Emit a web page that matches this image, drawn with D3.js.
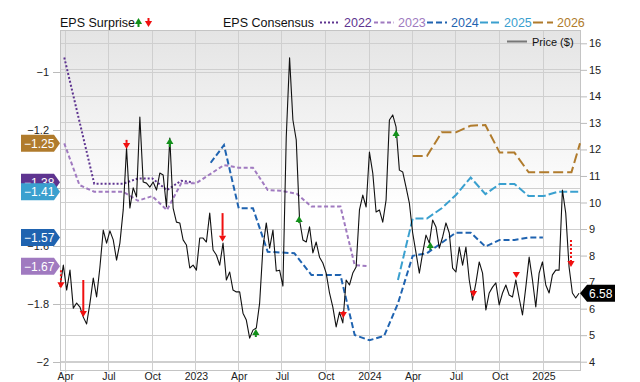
<!DOCTYPE html>
<html><head><meta charset="utf-8">
<script src="https://cdn.jsdelivr.net/npm/d3@7"></script>
<style>body{margin:0;background:#fff}svg{display:block;font-family:"Liberation Sans",Arial,sans-serif}</style>
</head><body><svg id="c" width="640" height="382"></svg>
<script>
// ---------- DATA ----------
const priceStart = "2022-03-21"; // weekly closes
const priceValues = [6.81,7.64,6.70,7.45,6.02,6.21,6.06,5.68,5.42,6.21,7.15,6.44,7.57,8.96,8.47,8.93,8.59,7.83,8.47,9.72,
12.05,9.79,10.55,10.21,13.22,10.77,10.73,10.58,10.77,10.47,11.11,11.04,9.83,12.43,9.79,9.26,9.23,8.59,8.40,7.53,
7.64,7.45,8.66,8.66,8.51,9.60,8.21,8.02,7.64,8.47,7.08,7.38,6.70,6.63,6.63,5.83,5.57,4.89,5.19,5.27,
6.21,8.32,9.23,8.28,8.96,7.42,7.45,6.85,12.47,15.45,13.11,12.36,9.34,8.59,8.51,9.08,8.10,8.51,7.94,7.72,
7.34,6.59,6.06,5.31,5.87,5.46,7.08,6.89,7.34,7.57,9.72,10.28,9.83,11.90,11.11,9.64,9.72,9.26,10.09,13.11,
13.30,12.85,11.22,11.15,10.58,9.98,8.85,8.10,7.34,8.10,8.77,8.47,9.34,9.08,8.28,8.70,9.23,8.85,7.53,7.38,
8.32,7.64,8.32,7.08,6.32,6.97,7.76,7.34,5.95,6.59,6.81,6.97,6.14,6.59,6.89,6.51,6.44,7.08,6.40,5.76,
6.81,7.94,7.08,6.06,7.34,7.76,6.89,6.59,7.27,7.45,7.45,10.47,9.60,7.57,6.59,6.40,6.58];

const c2022Dates = ["2022-03-30","2022-06-01","2022-08-01","2022-09-01","2022-10-01","2022-11-01","2022-12-01","2022-12-26"];
const c2022Values = [-0.95,-1.385,-1.385,-1.367,-1.367,-1.407,-1.375,-1.38];
const c2023Dates = ["2022-03-30","2022-05-01","2022-06-01","2022-08-01","2022-09-01","2022-10-01","2022-11-01","2022-12-01","2023-01-01","2023-03-01","2023-04-01","2023-05-01","2023-06-01","2023-07-01","2023-08-01","2023-09-01","2023-11-01","2023-12-01","2023-12-31"];
const c2023Values = [-1.246,-1.39,-1.413,-1.413,-1.444,-1.428,-1.476,-1.384,-1.384,-1.321,-1.33,-1.33,-1.407,-1.41,-1.42,-1.464,-1.464,-1.666,-1.67];
const c2024Dates = ["2023-02-01","2023-03-01","2023-04-01","2023-05-01","2023-06-01","2023-07-27","2023-09-01","2023-11-01","2023-12-01","2024-01-01","2024-02-01","2024-03-01","2024-04-01","2024-05-01","2024-07-01","2024-08-01","2024-09-01","2024-10-01","2024-11-01","2024-12-01","2024-12-31"];
const c2024Values = [-1.313,-1.252,-1.47,-1.47,-1.62,-1.625,-1.70,-1.70,-1.907,-1.925,-1.91,-1.798,-1.634,-1.625,-1.554,-1.554,-1.602,-1.579,-1.579,-1.571,-1.571];
const c2025Dates = ["2024-03-01","2024-04-01","2024-05-01","2024-06-01","2024-07-01","2024-08-01","2024-09-01","2024-10-01","2024-11-01","2024-12-01","2025-01-01","2025-02-01","2025-03-19"];
const c2025Values = [-1.717,-1.505,-1.505,-1.47,-1.424,-1.364,-1.421,-1.386,-1.386,-1.428,-1.428,-1.413,-1.413];
const c2026Dates = ["2024-04-01","2024-05-01","2024-06-01","2024-07-01","2024-08-01","2024-09-01","2024-10-01","2024-11-01","2024-12-01","2025-01-01","2025-03-01","2025-03-19"];
const c2026Values = [-1.29,-1.29,-1.208,-1.208,-1.185,-1.183,-1.278,-1.278,-1.346,-1.346,-1.346,-1.246];

const surpriseDates = ["2022-03-23","2022-05-09","2022-08-08","2022-11-07","2023-02-26","2023-05-07","2023-08-06","2023-11-07","2024-02-26","2024-05-08","2024-08-07","2024-11-05","2025-02-28"];
const surpriseFrom = [7.45,7.08,12.36,12.09,9.60,4.93,9.23,5.91,12.43,8.21,6.70,7.38,8.59];
const surpriseTo   = [6.77,5.68,12.02,12.43,8.52,5.23,9.49,5.65,12.73,8.51,6.44,7.15,7.57];
const surpriseDotted = [true,false,false,false,false,false,false,false,false,false,false,false,true];

const epsTicks = [-1,-1.2,-1.4,-1.6,-1.8,-2];
const priceTicks = [4,5,6,7,8,9,10,11,12,13,14,15,16];
const xTickDates = ["2022-04-01","2022-07-01","2022-10-01","2023-01-01","2023-04-01","2023-07-01","2023-10-01","2024-01-01","2024-04-01","2024-07-01","2024-10-01","2025-01-01"];

const seriesNames = ["2022","2023","2024","2025","2026"];
const seriesColors = ["#5e3490","#a07ac0","#1f63b0","#3aa0cf","#b07b2c"];
const seriesDash = ["2,2","4,2.5","6,3","8,3","10,4"];
const flagOrder = ["2026","2022","2025","2024","2023"];

// ---------- CHART ----------
const parse = d3.utcParse("%Y-%m-%d");
const svg = d3.select("#c");
const L = 60, R = 580, T = 30, B = 370.5;
const x = d3.scaleUtc().domain([parse("2022-03-21"), parse("2025-03-19")]).range([L, R]);
const yE = d3.scaleLinear().domain([-1, -2]).range([72, 362]);
const yP = d3.scaleLinear().domain([16, 4]).range([43.3, 361.7]);

const defs = svg.append("defs");
const grad = defs.append("linearGradient").attr("id","bg").attr("x1",0).attr("y1",0).attr("x2",0).attr("y2",1);
grad.append("stop").attr("offset","0%").attr("stop-color","#e4e4e4");
grad.append("stop").attr("offset","52%").attr("stop-color","#ffffff");
grad.append("stop").attr("offset","100%").attr("stop-color","#ffffff");
svg.append("rect").attr("x",L).attr("y",T).attr("width",R-L).attr("height",B-T).attr("fill","url(#bg)");

const grid = svg.append("g").attr("stroke","#cfcfcf").attr("stroke-width",1).attr("shape-rendering","crispEdges");
xTickDates.forEach(d => grid.append("line").attr("x1",x(parse(d))).attr("x2",x(parse(d))).attr("y1",T).attr("y2",B));
priceTicks.forEach(v => grid.append("line").attr("x1",L).attr("x2",R).attr("y1",yP(v)).attr("y2",yP(v)));
epsTicks.forEach(v => grid.append("line").attr("x1",L).attr("x2",R).attr("y1",yE(v)).attr("y2",yE(v)));
svg.append("rect").attr("x",L).attr("y",T).attr("width",R-L).attr("height",B-T)
  .attr("fill","none").attr("stroke","#c4c4c4").attr("shape-rendering","crispEdges");

// axes
const fmtX = d => d.getUTCMonth() === 0 ? d3.utcFormat("%Y")(d) : d3.utcFormat("%b")(d);
const ax = svg.append("g").attr("transform",`translate(0,${B})`)
  .call(d3.axisBottom(x).tickValues(xTickDates.map(parse)).tickFormat(fmtX).tickSize(2).tickPadding(0));
ax.select(".domain").remove();
ax.selectAll("line").attr("stroke","#c4c4c4");
ax.selectAll("text").attr("font-size",10.5).attr("fill","#222").attr("font-family","Liberation Sans, Arial, sans-serif");

const al = svg.append("g").attr("transform",`translate(${L},0)`)
  .call(d3.axisLeft(yE).tickValues(epsTicks).tickFormat(d3.format("")).tickSize(7).tickPadding(4));
al.select(".domain").remove();
al.selectAll("line").attr("stroke","#bbb");
al.selectAll("text").attr("font-size",11).attr("fill","#222").attr("font-family","Liberation Sans, Arial, sans-serif");

const ar = svg.append("g").attr("transform",`translate(${R},0)`)
  .call(d3.axisRight(yP).tickValues(priceTicks).tickSize(7).tickPadding(2));
ar.select(".domain").remove();
ar.selectAll("line").attr("stroke","#bbb");
ar.selectAll("text").attr("font-size",11).attr("fill","#222").attr("font-family","Liberation Sans, Arial, sans-serif");

// consensus lines
const series = [
  {dates:c2022Dates, values:c2022Values},
  {dates:c2023Dates, values:c2023Values},
  {dates:c2024Dates, values:c2024Values},
  {dates:c2025Dates, values:c2025Values},
  {dates:c2026Dates, values:c2026Values}
];
const lineE = d3.line().x(d => x(d[0])).y(d => yE(d[1]));
series.forEach((s, i) => {
  const pts = s.dates.map((d, j) => [parse(d), s.values[j]]);
  svg.append("path").attr("d", lineE(pts)).attr("fill","none")
    .attr("stroke", seriesColors[i]).attr("stroke-width", 2).attr("stroke-dasharray", seriesDash[i]);
});

// price line
const p0 = parse(priceStart);
const pricePts = priceValues.map((v, i) => [d3.utcDay.offset(p0, i * 7), v]);
svg.append("path").attr("d", d3.line().x(d => x(d[0])).y(d => yP(d[1]))(pricePts))
  .attr("fill","none").attr("stroke","#111").attr("stroke-width",1.1).attr("stroke-linejoin","round");

// surprise arrows
function arrow(g, cx, y1, y2, color, dotted) {
  const up = y2 < y1, h = 6, w = 3.6;
  const base = up ? y2 + h : y2 - h;
  if (Math.abs(base - y1) > 0.5 && (up ? y1 > base : y1 < base))
    g.append("line").attr("x1",cx).attr("x2",cx).attr("y1",y1).attr("y2",base)
      .attr("stroke",color).attr("stroke-width",2).attr("stroke-dasharray", dotted ? "2,2" : null);
  g.append("path").attr("d",`M${cx-w},${base}L${cx+w},${base}L${cx},${y2}Z`).attr("fill",color);
}
const ag = svg.append("g");
surpriseDates.forEach((d, i) => {
  const up = surpriseTo[i] > surpriseFrom[i];
  arrow(ag, x(parse(d)), yP(surpriseFrom[i]), yP(surpriseTo[i]), up ? "#12901a" : "#f01010", surpriseDotted[i]);
});

// left flags
const fg = svg.append("g");
flagOrder.forEach(name => {
  const i = seriesNames.indexOf(name);
  const v = series[i].values[series[i].values.length - 1];
  const cy = yE(v);
  fg.append("path").attr("d",`M21,${cy-8.5}H54L60,${cy}L54,${cy+8.5}H21Z`).attr("fill", seriesColors[i]);
  fg.append("text").attr("x",24).attr("y",cy).attr("dy","0.36em").attr("fill","#fff")
    .attr("font-size",12).text(d3.format(".2f")(v));
});

// right price flag
const last = priceValues[priceValues.length - 1], ly = yP(last);
svg.append("path").attr("d",`M${R},${ly}L${R+7},${ly-8.5}H615V${ly+8.5}H${R+7}Z`).attr("fill","#000");
svg.append("text").attr("x",589).attr("y",ly).attr("dy","0.36em").attr("fill","#fff").attr("font-size",12).text(d3.format(".2f")(last));

// price legend
svg.append("line").attr("x1",507).attr("x2",527).attr("y1",41.5).attr("y2",41.5).attr("stroke","#777").attr("stroke-width",2);
svg.append("text").attr("x",532).attr("y",45.5).attr("font-size",11).attr("fill","#111").text("Price ($)");

// top legend
svg.append("text").attr("x",60).attr("y",27).attr("font-size",12.5).attr("fill","#111").text("EPS Surprise");
arrow(svg, 138.5, 27, 18, "#12901a", false);
arrow(svg, 148.5, 18, 27, "#f01010", false);
svg.append("text").attr("x",223).attr("y",27).attr("font-size",12.5).attr("fill","#111").text("EPS Consensus");
const legX = [320, 374, 427, 480, 533];
seriesNames.forEach((n, i) => {
  svg.append("line").attr("x1",legX[i]).attr("x2",legX[i]+20).attr("y1",22.5).attr("y2",22.5)
    .attr("stroke",seriesColors[i]).attr("stroke-width",2).attr("stroke-dasharray",seriesDash[i]);
  svg.append("text").attr("x",legX[i]+24).attr("y",27).attr("font-size",12.5).attr("fill",seriesColors[i]).text(n);
});
</script></body></html>
